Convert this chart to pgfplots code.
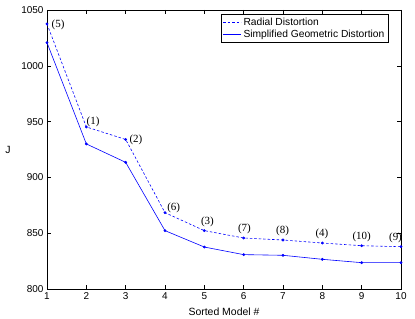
\documentclass[border=0pt]{standalone}
\usepackage{fontspec}
\setmainfont{Liberation Sans}
\newfontfamily\seriffont{Liberation Serif}
\usepackage{pgfplots}
\pgfplotsset{compat=1.18}
\begin{document}
\begin{tikzpicture}
\begin{axis}[
  name=main,
  scale only axis,
  width=354bp, height=279bp,
  xmin=1, xmax=10, ymin=800, ymax=1050,
  xtick={1,...,10}, ytick={800,850,...,1050},
  tick align=inside,
  major tick length=4bp,
  /pgf/number format/assume math mode=true,
  /pgf/number format/1000 sep={},
  tick label style={font=\fontsize{10}{11}\selectfont},
  label style={font=\fontsize{10.5}{12}\selectfont},
  xlabel={Sorted Model \#},
  ylabel={J},
  ylabel style={rotate=-90, at={(axis description cs:0,0.5)}, anchor=center, xshift=-39bp},
  xlabel style={at={(axis description cs:0.5,0)}, anchor=north, yshift=-15bp},
  axis line style={line width=0.6bp},
  every tick/.style={black, line width=0.5bp},
  legend style={at={(0.965,0.985)}, anchor=north east, font=\fontsize{10.3}{11}\selectfont,
     draw=black, line width=0.5bp, inner xsep=2bp, inner ysep=1.5bp, row sep=-1bp, cells={anchor=west}},
  legend image code/.code={\draw[#1, blue, mark=none] (0bp,0bp) -- (18bp,0bp);},
  clip=false,
]
\addplot[blue, line width=0.6bp, dash pattern=on 2.5bp off 2bp, mark=*, mark size=1.1bp, mark options={solid}]
 coordinates {(1,1037.5) (2,945.2) (3,934) (4,868.4) (5,852.3) (6,845.7) (7,843.9) (8,841.2) (9,838.8) (10,837.9)};
\addlegendentry{Radial Distortion}
\addplot[blue, line width=0.6bp, mark=*, mark size=1.1bp]
 coordinates {(1,1020.7) (2,930) (3,913.5) (4,852.3) (5,837.6) (6,830.8) (7,830.2) (8,826.6) (9,823.6) (10,823.6)};
\addlegendentry{Simplified Geometric Distortion}
\begin{scope}[every node/.style={font=\seriffont\fontsize{11}{12}\selectfont, inner sep=0pt}]
\node at (axis cs:1.28,1036.6) {(5)};
\node at (axis cs:2.17,949.6) {(1)};
\node at (axis cs:3.26,933.5) {(2)};
\node at (axis cs:4.22,872.6) {(6)};
\node at (axis cs:5.08,860.3) {(3)};
\node at (axis cs:6.02,853.8) {(7)};
\node at (axis cs:6.99,852) {(8)};
\node at (axis cs:7.99,849.3) {(4)};
\node at (axis cs:9.0,846.9) {(10)};
\node at (axis cs:9.86,845.4) {(9)};
\end{scope}
\end{axis}
\path ([xshift=-47bp,yshift=-30bp]main.south west) rectangle ([xshift=14bp,yshift=10bp]main.north east);
\end{tikzpicture}
\end{document}
